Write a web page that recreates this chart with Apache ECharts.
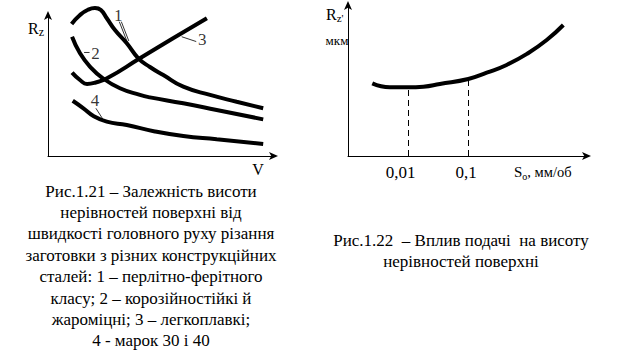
<!DOCTYPE html>
<html>
<head>
<meta charset="utf-8">
<script src="https://cdn.jsdelivr.net/npm/echarts@6/dist/echarts.min.js"></script>
<style>
html,body{margin:0;padding:0;background:#fff;}
#c{width:625px;height:361px;}
</style>
</head>
<body>
<div id="c"></div>
<script>
// ---- Fig 1.21 : Rz vs V (relative units 0..100) ----
var curve1 = [[10.4,93.0],[14.1,99.3],[17.6,103.0],[20.7,104.2],[23.3,102.8],[25.9,97.0],[29.5,88.7],[34.7,79.4],[39.8,68.8],[44.9,62.7],[50.8,57.0],[59.6,48.8],[71.4,43.0],[83.1,38.2],[94.8,33.6]];
var curve2 = [[10.6,84.0],[14.1,72.3],[18.5,62.9],[24.2,54.7],[31.7,47.7],[40.5,43.0],[44.9,41.3],[59.6,37.1],[74.3,32.4],[94.8,25.8]];
var curve3 = [[10.6,58.7],[14.1,53.5],[17.2,50.7],[20.7,51.6],[26.0,54.7],[40.5,68.8],[55.1,82.9],[70.0,97.0]];
var curve4 = [[10.9,38.9],[15.6,33.6],[20.0,28.2],[25.9,24.2],[34.7,21.8],[47.1,17.3],[59.6,14.1],[74.3,11.8],[94.8,8.5]];
var curveNames = ['1','2','3','4'];
var labelPoints = [[31.0,98.8],[20.9,72.5],[67.9,81.7],[20.7,38.9]];
var leaderLines = [
  [[31.4,94.6],[34.9,80.3]],
  [[32.3,94.6],[35.6,81.0]],
  [[15.9,72.9],[18.3,72.9]],
  [[58.9,84.0],[65.3,80.6]],
  [[21.1,33.6],[24.4,25.4]]
];

// ---- Fig 1.22 : Rz vs feed So (log scale) ----
var feedS = [0.00254,0.0050,0.0101,0.018,0.034,0.101,0.205,0.44,1.0,2.05,3.88];
var feedRz = [47.8,45.2,45.2,45.6,47.4,50.7,54.8,59.9,67.6,76.3,86.2];
var feedTicks = [0.01,0.1];
var feedTickLabels = ['0,01','0,1'];
var feedDropRz = [45.2,50.7];

var captionLeft = ['Рис.1.21 – Залежність висоти','нерівностей поверхні від','швидкості головного руху різання','заготовки з різних конструкційних','сталей: 1 – перлітно-ферітного','класу; 2 – корозійностійкі й','жароміцні; 3 – легкоплавкі;','4 - марок 30 і 40'];
var captionRight = ['Рис.1.22\u00a0 – Вплив подачі\u00a0 на висоту','нерівностей поверхні'];

var SERIF = 'Liberation Serif, serif';
var chart = echarts.init(document.getElementById('c'), null, {renderer:'svg'});

function axisBase(){
  return {
    axisLine:{show:true,lineStyle:{color:'#000',width:1},symbol:['none','arrow'],symbolSize:[6,9],symbolOffset:[0,3]},
    axisTick:{show:false},axisLabel:{show:false},splitLine:{show:false}
  };
}
var thick = {color:'#000',width:4};
var series = [];
[curve1,curve2,curve3,curve4].forEach(function(c,i){
  series.push({type:'line',xAxisIndex:0,yAxisIndex:0,data:c,smooth:0.5,showSymbol:false,symbol:'none',clip:false,lineStyle:thick,z:3});
});
leaderLines.forEach(function(l){
  series.push({type:'line',xAxisIndex:0,yAxisIndex:0,data:l,showSymbol:false,symbol:'none',clip:false,lineStyle:{color:'#000',width:0.8},z:2});
});
series.push({type:'scatter',xAxisIndex:0,yAxisIndex:0,symbolSize:0,clip:false,
  data:labelPoints.map(function(p,i){return {value:p,name:curveNames[i]};}),
  label:{show:true,position:'inside',formatter:function(p){return p.name;},color:'#000',fontFamily:SERIF,fontSize:17}});

var x2 = {type:'log',gridIndex:1,logBase:10,min:0.001,max:10};
Object.assign(x2, axisBase());
x2.axisLabel = {show:true,color:'#000',fontFamily:SERIF,fontSize:17,margin:8,showMinLabel:true,showMaxLabel:true,
  formatter:function(v){for(var k=0;k<feedTicks.length;k++){if(Math.abs(v-feedTicks[k])<feedTicks[k]*1e-6)return '{t'+k+'|'+feedTickLabels[k]+'}';}return '';},
  rich:{t0:{fontFamily:SERIF,fontSize:17,color:'#000',padding:[0,15,0,0]},t1:{fontFamily:SERIF,fontSize:17,color:'#000',padding:[0,4,0,0]}}};

series.push({type:'line',xAxisIndex:1,yAxisIndex:1,data:feedS.map(function(s,i){return [s,feedRz[i]];}),
  smooth:0.5,showSymbol:false,symbol:'none',lineStyle:thick,z:3,
  markLine:{silent:true,symbol:['none','none'],label:{show:false},lineStyle:{color:'#000',width:1,type:[6,4]},
    data:feedTicks.map(function(t,k){return [{coord:[t,0]},{coord:[t,feedDropRz[k]]}];})}});

var graphics = [];
function txt(x,y,text,size,align,rich){
  graphics.push({type:'text',x:x,y:y,style:{text:text,fill:'#000',fontSize:size,fontFamily:SERIF,textAlign:align||'center',textVerticalAlign:'middle',rich:rich}});
}
function r(sz,pad){return {fontSize:sz,fontFamily:SERIF,fill:'#000',padding:pad||0};}
captionLeft.forEach(function(t,i){txt(151,191+i*21.4,t,17);});
captionRight.forEach(function(t,i){txt(461,240+i*21.4,t,17);});
txt(28,28,'{r|R}{s|z}',16,'left',{r:r(16),s:r(12,[8,0,0,0])});
txt(258,169,'V',16,'center');
txt(326,14,'{r|R}{s|z\'}',16,'left',{r:r(16),s:r(11,[8,0,0,0])});
txt(337,40,'мкм',13,'center');
txt(514,172,'{r|S}{s|o}{t|, мм/об}',15,'left',{r:r(15),s:r(10,[9,0,0,0]),t:r(14.5)});

var y1 = {type:'value',gridIndex:0,min:0,max:100}; Object.assign(y1, axisBase());
var xa1 = {type:'value',gridIndex:0,min:0,max:100}; Object.assign(xa1, axisBase());
var y2 = {type:'value',gridIndex:1,min:0,max:100}; Object.assign(y2, axisBase());

chart.setOption({
  animation:false,
  backgroundColor:'#fff',
  grid:[{left:48,top:14,width:227,height:142},{left:348,top:4,width:240,height:152}],
  xAxis:[xa1,x2],
  yAxis:[y1,y2],
  series:series,
  graphic:graphics
});
</script>
</body>
</html>
